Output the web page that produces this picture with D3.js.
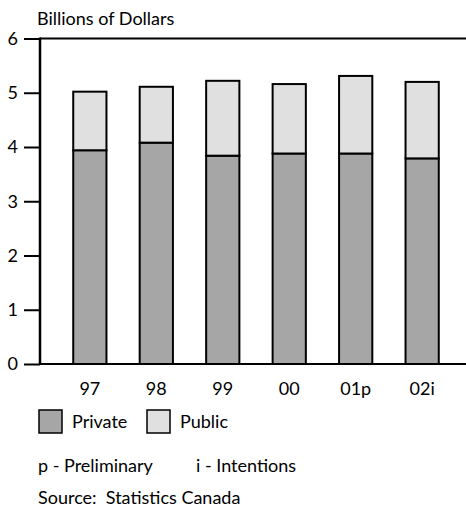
<!DOCTYPE html>
<html><head><meta charset="utf-8">
<script src="https://cdn.jsdelivr.net/npm/d3@7"></script>
<style>body{margin:0;background:#fff}svg{display:block}text{font-family:"Gill Sans","Lato",sans-serif;fill:#000}</style>
</head><body><svg id="c" width="466" height="510"></svg>
<script>
const categories = ["97","98","99","00","01p","02i"];
const privateValues = [3.94, 4.08, 3.84, 3.88, 3.88, 3.79];
const publicValues = [1.08, 1.03, 1.38, 1.28, 1.43, 1.41];
const yTicks = [0,1,2,3,4,5,6];
const seriesNames = ["Private","Public"];
const seriesColors = ["#a6a6a6","#e0e0e0"];

const svg = d3.select("#c");
const x = d3.scaleBand().domain(categories).range([40, 472]).paddingInner(0.5).paddingOuter(0.5);
const y = d3.scaleLinear().domain([0,6]).range([364, 38.5]);

const data = categories.map((c,i)=>({cat:c, Private:privateValues[i], Public:publicValues[i]}));
const stack = d3.stack().keys(seriesNames)(data);

const FS = 18;
svg.append("text").attr("x",37).attr("y",25).attr("font-size",FS).text("Billions of Dollars");

// frame lines
svg.append("line").attr("x1",40).attr("x2",466).attr("y1",y(6)).attr("y2",y(6)).attr("stroke","#000").attr("stroke-width",2);
svg.append("line").attr("x1",40).attr("x2",466).attr("y1",y(0)).attr("y2",y(0)).attr("stroke","#000").attr("stroke-width",2);

const yAxis = svg.append("g").attr("transform","translate(40,0)")
  .call(d3.axisLeft(y).tickValues(yTicks).tickFormat(d3.format("d")).tickSize(16).tickPadding(6));
yAxis.select(".domain").attr("stroke-width",2.5).attr("d",`M0,${y(0)+1}V${y(6)-1}`);
yAxis.selectAll(".tick line").attr("stroke-width",2);
yAxis.selectAll(".tick text").attr("font-size",FS).attr("font-family",'"Gill Sans","Lato",sans-serif').attr("fill","#000");

svg.append("g").selectAll("g").data(stack).join("g")
  .attr("fill",(d,i)=>seriesColors[i])
  .selectAll("rect").data(d=>d).join("rect")
  .attr("x",d=>x(d.data.cat)).attr("width",x.bandwidth())
  .attr("y",d=>y(d[1])).attr("height",d=>y(d[0])-y(d[1]))
  .attr("stroke","#000").attr("stroke-width",2);

svg.append("g").selectAll("text").data(categories).join("text")
  .attr("x",d=>x(d)+x.bandwidth()/2).attr("y",395).attr("text-anchor","middle")
  .attr("font-size",FS).text(d=>d);

// legend
const legX = [39, 147];
const lg = svg.append("g").selectAll("g").data(seriesNames).join("g");
lg.append("rect").attr("x",(d,i)=>legX[i]).attr("y",410).attr("width",23).attr("height",23)
  .attr("fill",(d,i)=>seriesColors[i]).attr("stroke","#000").attr("stroke-width",1.5);
lg.append("text").attr("x",(d,i)=>legX[i]+33).attr("y",428).attr("font-size",FS).text(d=>d);

svg.append("text").attr("x",38).attr("y",472).attr("font-size",FS).text("p - Preliminary");
svg.append("text").attr("x",196).attr("y",472).attr("font-size",FS).text("i - Intentions");
svg.append("text").attr("x",38).attr("y",504).attr("font-size",FS).attr("xml:space","preserve").text("Source:  Statistics Canada");
</script></body></html>
